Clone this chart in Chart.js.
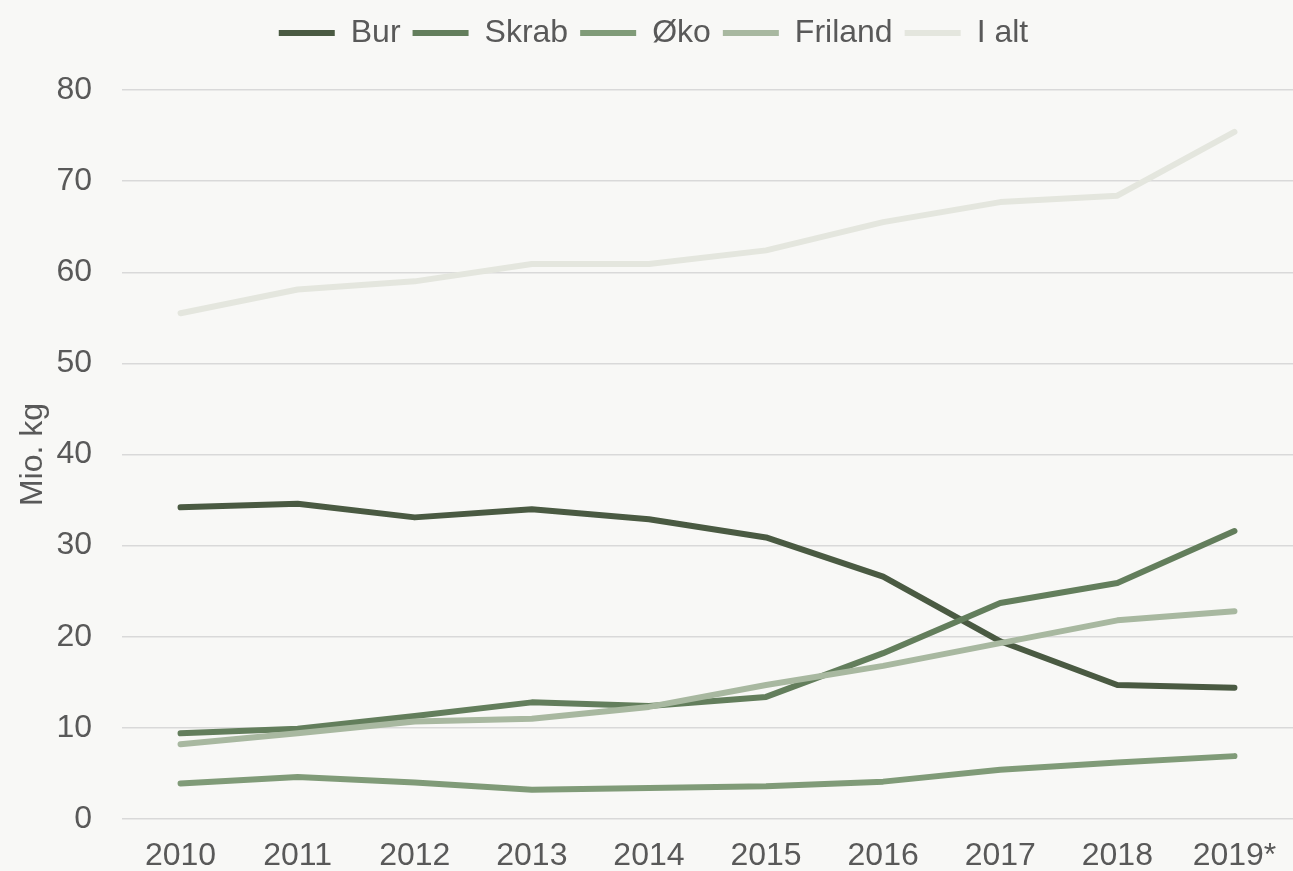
<!DOCTYPE html>
<html>
<head>
<meta charset="utf-8">
<script src="https://cdn.jsdelivr.net/npm/chart.js@4/dist/chart.umd.min.js"></script>
<style>
  html, body { margin: 0; padding: 0; background: #f8f8f6; }
  #wrap { width: 1293px; height: 871px; }
</style>
</head>
<body>
<div id="wrap"><canvas id="eggChart" width="1293" height="871"></canvas></div>
<script>
const years = ['2010', '2011', '2012', '2013', '2014', '2015', '2016', '2017', '2018', '2019*'];
const bur = [34.2, 34.6, 33.1, 34.0, 32.9, 30.9, 26.6, 19.5, 14.7, 14.4];
const skrab = [9.4, 9.9, 11.3, 12.8, 12.4, 13.4, 18.2, 23.7, 25.9, 31.6];
const oeko = [3.9, 4.6, 4.0, 3.2, 3.4, 3.6, 4.1, 5.4, 6.2, 6.9];
const friland = [8.2, 9.4, 10.7, 11.0, 12.3, 14.7, 16.8, 19.3, 21.8, 22.8];
const iAlt = [55.5, 58.1, 59.0, 60.9, 60.9, 62.4, 65.5, 67.7, 68.4, 75.4];

const font = "'Liberation Sans', Arial, sans-serif";
const textColor = '#595959';

function series(label, data, color, order) {
  return {
    label: label,
    data: data,
    borderColor: color,
    backgroundColor: color,
    borderWidth: 6,
    borderCapStyle: 'round',
    borderJoinStyle: 'round',
    pointRadius: 0,
    tension: 0,
    order: order
  };
}

// push the plot area down a bit below the legend
const legendSpace = {
  id: 'legendSpace',
  beforeInit(chart) {
    const fit = chart.legend.fit;
    chart.legend.fit = function () {
      fit.bind(chart.legend)();
      this.height += 31;
    };
  }
};

const ctx = document.getElementById('eggChart').getContext('2d');

new Chart(ctx, {
  type: 'line',
  data: {
    labels: years,
    datasets: [
      series('Bur', bur, '#4a5a42', 5),
      series('Skrab', skrab, '#637e5c', 4),
      series('Øko', oeko, '#809b78', 3),
      series('Friland', friland, '#a8b8a0', 2),
      series('I alt', iAlt, '#e4e6de', 1)
    ]
  },
  plugins: [legendSpace],
  options: {
    responsive: false,
    animation: false,
    layout: { padding: { left: 14, right: 0, top: 5, bottom: 0 } },
    plugins: {
      tooltip: { enabled: false },
      legend: {
        position: 'top',
        labels: {
          usePointStyle: true,
          pointStyle: 'line',
          pointStyleWidth: 56,
          padding: 12,
          color: textColor,
          font: { family: font, size: 32 },
          sort: (a, b) => a.datasetIndex - b.datasetIndex
        }
      }
    },
    scales: {
      x: {
        offset: true,
        grid: { display: false },
        border: { display: false },
        ticks: { color: textColor, font: { family: font, size: 32 }, padding: 10, maxRotation: 0 },
        afterFit(scale) { scale.height = 52; }
      },
      y: {
        min: 0,
        max: 80,
        ticks: { stepSize: 10, color: textColor, font: { family: font, size: 32 }, padding: 30 },
        grid: { color: '#d9d9d9', lineWidth: 1.5, drawTicks: false },
        border: { display: false },
        title: {
          display: true,
          text: 'Mio. kg',
          color: textColor,
          font: { family: font, size: 32 },
          padding: { top: 0, bottom: 4 }
        },
        afterFit(scale) { scale.width = 108; }
      }
    }
  }
});
</script>
</body>
</html>
